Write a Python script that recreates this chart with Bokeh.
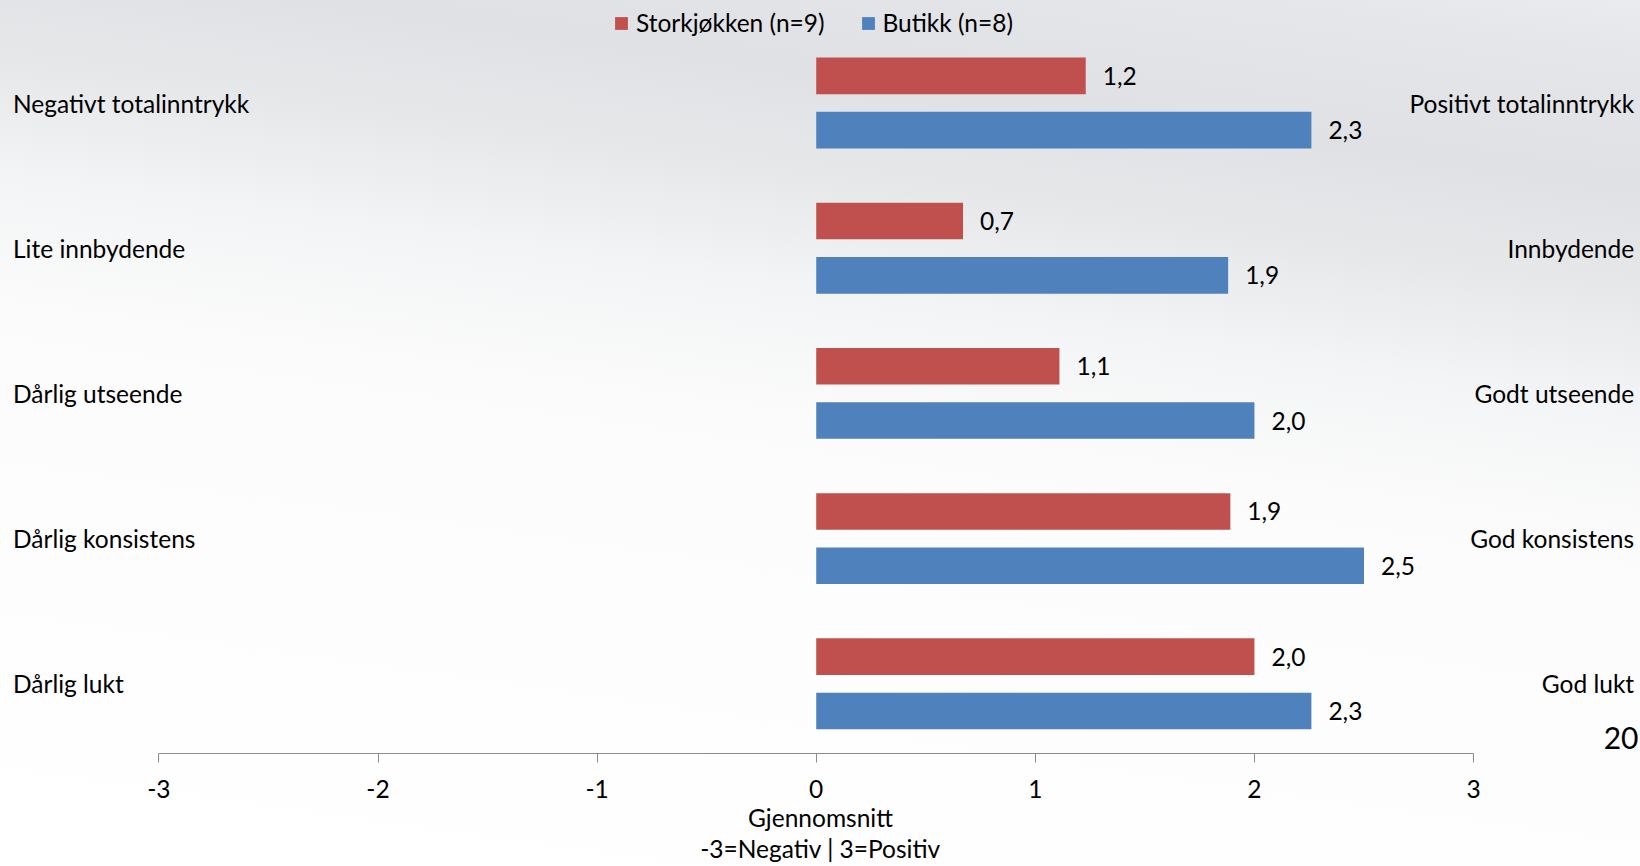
from bokeh.plotting import figure
from bokeh.models import ColumnDataSource, Range1d, FixedTicker, Legend, LegendItem, Label
from bokeh.core.properties import value
from bokeh.embed import file_html
from bokeh.resources import INLINE

# ---- data ----
neg_labels = ["Negativt totalinntrykk", "Lite innbydende", "Dårlig utseende",
              "Dårlig konsistens", "Dårlig lukt"]
pos_labels = ["Positivt totalinntrykk", "Innbydende", "Godt utseende",
              "God konsistens", "God lukt"]
storkjokken = [1.23, 0.67, 1.11, 1.89, 2.00]
butikk = [2.26, 1.88, 2.00, 2.50, 2.26]
series_names = ["Storkjøkken (n=9)", "Butikk (n=8)"]
x_ticks = [-3, -2, -1, 0, 1, 2, 3]
x_tick_labels = ["-3", "-2", "-1", "0", "1", "2", "3"]
axis_title = "Gjennomsnitt\n-3=Negativ | 3=Positiv"
page_number = "20"

FONT = "Lato"
FS = "24.5px"
RED = "#C0504D"
BLUE = "#4F81BD"
BG_CSS = ("linear-gradient(188deg, #eaebee 0%, #e3e5e8 7%, #dfe1e4 17%, "
          "#e6e8ea 27%, #f4f5f6 38%, #fcfcfc 52%, #ffffff 100%)")

n = len(neg_labels)
idx = list(range(n))
off = 0.187
bar_h = 0.252

def fmt(v):
    return f"{v:.1f}".replace(".", ",")

src_r = ColumnDataSource(dict(y=[i - off for i in idx], v=storkjokken,
                              lab=[fmt(v) for v in storkjokken]))
src_b = ColumnDataSource(dict(y=[i + off for i in idx], v=butikk,
                              lab=[fmt(v) for v in butikk]))
src_c = ColumnDataSource(dict(y=idx, neg=neg_labels, pos=pos_labels,
                              xl=[-3.666] * n, xr=[3.733] * n))

p = figure(width=1640, height=866, output_backend="svg", toolbar_location=None,
           x_range=Range1d(-3.723, 3.762), y_range=Range1d(4.480, -0.706),
           y_axis_location=None, min_border_left=0, min_border_right=0,
           min_border_top=0, min_border_bottom=111)
p.background_fill_alpha = 0
p.border_fill_alpha = 0
p.styles = {"background": BG_CSS}
p.outline_line_color = None
p.xgrid.visible = False
p.ygrid.visible = False

r_red = p.hbar(y="y", right="v", left=0, height=bar_h, source=src_r,
               fill_color=RED, line_color=None)
r_blue = p.hbar(y="y", right="v", left=0, height=bar_h, source=src_b,
                fill_color=BLUE, line_color=None)

for src in (src_r, src_b):
    p.text(x="v", y="y", text="lab", source=src, x_offset=17,
           text_baseline="middle", text_align="left",
           text_font=value(FONT), text_font_size=FS, text_color="black")

p.text(x="xl", y="y", text="neg", source=src_c, text_baseline="middle",
       text_align="left", text_font=value(FONT), text_font_size=FS, text_color="black")
p.text(x="xr", y="y", text="pos", source=src_c, text_baseline="middle",
       text_align="right", text_font=value(FONT), text_font_size=FS, text_color="black")

ax = p.xaxis[0]
ax.ticker = FixedTicker(ticks=x_ticks)
ax.major_label_overrides = {t: s for t, s in zip(x_ticks, x_tick_labels)}
ax.bounds = (-3, 3)
ax.axis_line_color = "#8c8c8c"
ax.major_tick_line_color = "#8c8c8c"
ax.major_tick_out = 9
ax.major_tick_in = 0
ax.minor_tick_line_color = None
ax.major_label_text_font = FONT
ax.major_label_text_font_size = FS
ax.major_label_text_color = "black"
ax.major_label_standoff = 17
ax.axis_label = axis_title
ax.axis_label_text_font = FONT
ax.axis_label_text_font_size = FS
ax.axis_label_text_font_style = "normal"
ax.axis_label_text_color = "black"
ax.axis_label_standoff = 2
ax.axis_label_text_line_height = 1.09

legend = Legend(items=[LegendItem(label=series_names[0], renderers=[r_red]),
                       LegendItem(label=series_names[1], renderers=[r_blue])],
                orientation="horizontal", location=(613, 716),
                glyph_width=16, glyph_height=16, label_standoff=7, spacing=35,
                label_text_font=FONT, label_text_font_size=FS,
                label_text_color="black", background_fill_alpha=0,
                border_line_alpha=0, padding=0, margin=0, label_height=24)
p.add_layout(legend)

p.add_layout(Label(x=1638, y=5, x_units="screen", y_units="screen", text=page_number,
                   text_font=FONT, text_font_size="30px", text_baseline="bottom",
                   text_align="right", text_color="black"))

open("out.html", "w").write(file_html(p, INLINE))
